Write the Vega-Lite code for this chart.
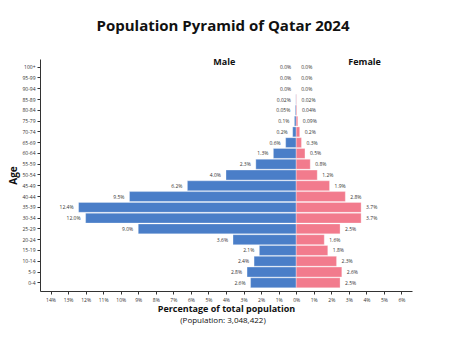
{
  "$schema": "https://vega.github.io/schema/vega-lite/v6.json",
  "width": 372,
  "height": 232,
  "autosize": {"type": "none"},
  "padding": {"left": 40, "top": 59, "right": 38, "bottom": 59},
  "background": "white",
  "config": {"view": {"stroke": null}, "font": "Open Sans"},
  "title": {"text": "Population Pyramid of Qatar 2024", "fontSize": 15, "font": "Open Sans", "fontWeight": "bold", "color": "#111", "anchor": "middle", "offset": 24, "dx": -3},
  "data": {"values": [
    {"age": "100+", "sex": "Male", "pct": 0.0, "label": "0.0%"},
    {"age": "95-99", "sex": "Male", "pct": 0.0, "label": "0.0%"},
    {"age": "90-94", "sex": "Male", "pct": 0.0, "label": "0.0%"},
    {"age": "85-89", "sex": "Male", "pct": 0.02, "label": "0.02%"},
    {"age": "80-84", "sex": "Male", "pct": 0.05, "label": "0.05%"},
    {"age": "75-79", "sex": "Male", "pct": 0.1, "label": "0.1%"},
    {"age": "70-74", "sex": "Male", "pct": 0.2, "label": "0.2%"},
    {"age": "65-69", "sex": "Male", "pct": 0.6, "label": "0.6%"},
    {"age": "60-64", "sex": "Male", "pct": 1.3, "label": "1.3%"},
    {"age": "55-59", "sex": "Male", "pct": 2.3, "label": "2.3%"},
    {"age": "50-54", "sex": "Male", "pct": 4.0, "label": "4.0%"},
    {"age": "45-49", "sex": "Male", "pct": 6.2, "label": "6.2%"},
    {"age": "40-44", "sex": "Male", "pct": 9.5, "label": "9.5%"},
    {"age": "35-39", "sex": "Male", "pct": 12.4, "label": "12.4%"},
    {"age": "30-34", "sex": "Male", "pct": 12.0, "label": "12.0%"},
    {"age": "25-29", "sex": "Male", "pct": 9.0, "label": "9.0%"},
    {"age": "20-24", "sex": "Male", "pct": 3.6, "label": "3.6%"},
    {"age": "15-19", "sex": "Male", "pct": 2.1, "label": "2.1%"},
    {"age": "10-14", "sex": "Male", "pct": 2.4, "label": "2.4%"},
    {"age": "5-9", "sex": "Male", "pct": 2.8, "label": "2.8%"},
    {"age": "0-4", "sex": "Male", "pct": 2.6, "label": "2.6%"},
    {"age": "100+", "sex": "Female", "pct": 0.0, "label": "0.0%"},
    {"age": "95-99", "sex": "Female", "pct": 0.0, "label": "0.0%"},
    {"age": "90-94", "sex": "Female", "pct": 0.0, "label": "0.0%"},
    {"age": "85-89", "sex": "Female", "pct": 0.02, "label": "0.02%"},
    {"age": "80-84", "sex": "Female", "pct": 0.04, "label": "0.04%"},
    {"age": "75-79", "sex": "Female", "pct": 0.09, "label": "0.09%"},
    {"age": "70-74", "sex": "Female", "pct": 0.2, "label": "0.2%"},
    {"age": "65-69", "sex": "Female", "pct": 0.3, "label": "0.3%"},
    {"age": "60-64", "sex": "Female", "pct": 0.5, "label": "0.5%"},
    {"age": "55-59", "sex": "Female", "pct": 0.8, "label": "0.8%"},
    {"age": "50-54", "sex": "Female", "pct": 1.2, "label": "1.2%"},
    {"age": "45-49", "sex": "Female", "pct": 1.9, "label": "1.9%"},
    {"age": "40-44", "sex": "Female", "pct": 2.8, "label": "2.8%"},
    {"age": "35-39", "sex": "Female", "pct": 3.7, "label": "3.7%"},
    {"age": "30-34", "sex": "Female", "pct": 3.7, "label": "3.7%"},
    {"age": "25-29", "sex": "Female", "pct": 2.5, "label": "2.5%"},
    {"age": "20-24", "sex": "Female", "pct": 1.6, "label": "1.6%"},
    {"age": "15-19", "sex": "Female", "pct": 1.8, "label": "1.8%"},
    {"age": "10-14", "sex": "Female", "pct": 2.3, "label": "2.3%"},
    {"age": "5-9", "sex": "Female", "pct": 2.6, "label": "2.6%"},
    {"age": "0-4", "sex": "Female", "pct": 2.5, "label": "2.5%"}
  ]},
  "transform": [{"calculate": "datum.sex == 'Male' ? -datum.pct : datum.pct", "as": "x"}],
  "encoding": {
    "y": {
      "field": "age", "type": "nominal",
      "sort": ["100+","95-99","90-94","85-89","80-84","75-79","70-74","65-69","60-64","55-59","50-54","45-49","40-44","35-39","30-34","25-29","20-24","15-19","10-14","5-9","0-4"],
      "scale": {"paddingInner": 0.08, "paddingOuter": 0.3},
      "axis": {"title": "Age", "titleFontSize": 10, "titleFontWeight": "bold", "titleColor": "#111", "titlePadding": 3, "labelFontSize": 5, "labelColor": "#333", "tickSize": 3, "tickColor": "#333", "domainColor": "#333", "labelPadding": 2}
    },
    "x": {
      "field": "x", "type": "quantitative",
      "scale": {"domain": [-14.6, 6.6], "nice": false, "zero": false},
      "axis": {
        "values": [-14,-13,-12,-11,-10,-9,-8,-7,-6,-5,-4,-3,-2,-1,0,1,2,3,4,5,6],
        "labelExpr": "abs(datum.value) + '%'",
        "labelOverlap": false, "labelFlush": false, "labelPadding": 3,
        "grid": false, "labelFontSize": 5, "labelColor": "#333", "tickSize": 3, "tickColor": "#333", "domainColor": "#333",
        "title": "Percentage of total population", "titleFontSize": 9, "titleFontWeight": "bold", "titleColor": "#111", "titlePadding": 2
      }
    }
  },
  "layer": [
    {
      "mark": {"type": "bar", "stroke": "#ffffff", "strokeWidth": 0.5, "strokeOpacity": 0.6},
      "encoding": {
        "color": {"field": "sex", "type": "nominal", "scale": {"domain": ["Male", "Female"], "range": ["#4a7ec8", "#f27b8d"]}, "legend": null}
      }
    },
    {
      "transform": [{"filter": "datum.sex == 'Male'"}],
      "mark": {"type": "text", "align": "right", "dx": -5, "fontSize": 5, "color": "#333"},
      "encoding": {"text": {"field": "label"}}
    },
    {
      "transform": [{"filter": "datum.sex == 'Female'"}],
      "mark": {"type": "text", "align": "left", "dx": 5, "fontSize": 5, "color": "#333"},
      "encoding": {"text": {"field": "label"}}
    },
    {
      "data": {"values": [{"t": "Male", "x": -4.1}, {"t": "Female", "x": 3.9}]},
      "mark": {"type": "text", "fontSize": 9, "fontWeight": "bold", "color": "#111", "y": 3, "align": "center"},
      "encoding": {"text": {"field": "t"}, "y": null}
    },
    {
      "data": {"values": [{"t": "(Population: 3,048,422)"}]},
      "mark": {"type": "text", "fontSize": 8, "color": "#111", "y": {"expr": "height + 30"}, "x": {"expr": "width/2 - 3"}, "align": "center"},
      "encoding": {"text": {"field": "t"}, "y": null, "x": null}
    }
  ]
}
